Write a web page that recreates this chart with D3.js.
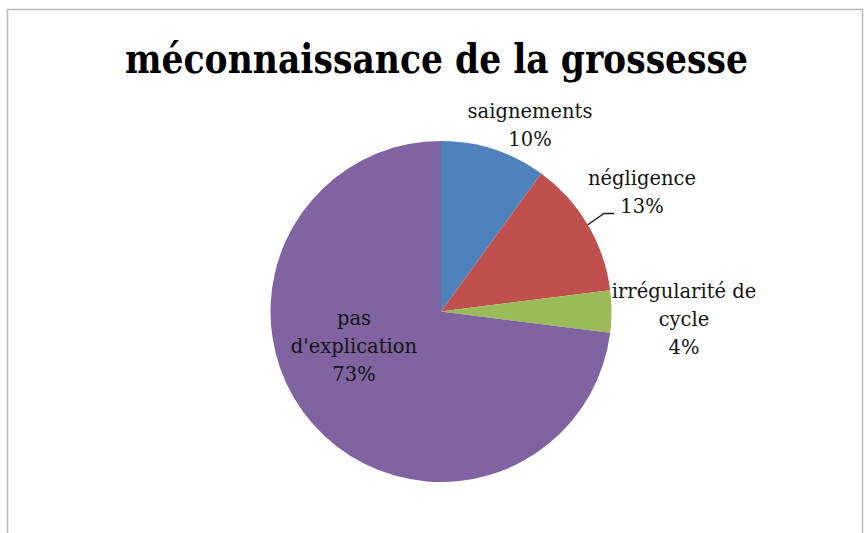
<!DOCTYPE html>
<html>
<head>
<meta charset="utf-8">
<script src="https://cdn.jsdelivr.net/npm/d3@7"></script>
<style>
  html, body { margin: 0; padding: 0; background: #fff; }
  svg { display: block; }
</style>
</head>
<body>
<svg id="chart" width="864" height="533"></svg>
<script>
// Reasons given for not recognising the pregnancy (share of cases, %)
const categories = ["saignements", "négligence", "irrégularité de cycle", "pas d'explication"];
const values = [10, 13, 4, 73];
const labelLines = [["saignements"], ["négligence"], ["irrégularité de", "cycle"], ["pas", "d'explication"]];
const colors = ["#4F81BD", "#C0504D", "#9BBB59", "#8064A2"];
const title = "méconnaissance de la grossesse";

// Where each data label sits (centre x, first baseline y)
const labelAnchors = [[530, 118], [642, 185], [684, 298], [354, 325]];
const lineHeight = 28;

const width = 864, height = 533;
const cx = 441, cy = 311.5, radius = 170.5;

const svg = d3.select("#chart");

// chart area frame
svg.append("rect")
  .attr("x", 7.5).attr("y", 9.5)
  .attr("width", 855).attr("height", 530)
  .attr("fill", "#fff")
  .attr("stroke", "#b8b8b8")
  .attr("stroke-width", 1.5);

// title
svg.append("text")
  .attr("x", 436.5).attr("y", 73)
  .attr("text-anchor", "middle")
  .attr("font-family", "'DejaVu Serif', serif")
  .attr("font-weight", "bold")
  .attr("font-size", 41)
  .attr("textLength", 623)
  .attr("lengthAdjust", "spacingAndGlyphs")
  .attr("fill", "#000")
  .text(title);

const pie = d3.pie().sort(null).value(d => d)
  .startAngle(0).endAngle(2 * Math.PI);
const arcs = pie(values);
const arc = d3.arc().innerRadius(0).outerRadius(radius);

const g = svg.append("g").attr("transform", `translate(${cx},${cy})`);
g.selectAll("path.slice")
  .data(arcs)
  .join("path")
  .attr("class", "slice")
  .attr("d", arc)
  .attr("fill", (d, i) => colors[i]);

// leader line for the "négligence" label, from the middle of its outer arc
const nd = arcs[1];
const mid = (nd.startAngle + nd.endAngle) / 2;
const p0 = [cx + radius * Math.sin(mid), cy - radius * Math.cos(mid)];
svg.append("path")
  .attr("d", d3.line()([p0, [604, 213.5], [614, 213.5]]))
  .attr("fill", "none")
  .attr("stroke", "#1a1a1a")
  .attr("stroke-width", 1.4);

// data labels: category name(s) then percentage
const fmt = v => d3.format(".0f")(v) + "%";
labelLines.forEach((lines, i) => {
  const [x, y] = labelAnchors[i];
  const t = svg.append("text")
    .attr("text-anchor", "middle")
    .attr("font-family", "'DejaVu Serif', serif")
    .attr("font-size", 19.5)
    .attr("fill", "#141414");
  lines.concat([fmt(values[i])]).forEach((s, k) => {
    t.append("tspan").attr("x", x).attr("y", y + k * lineHeight).text(s);
  });
});
</script>
</body>
</html>
